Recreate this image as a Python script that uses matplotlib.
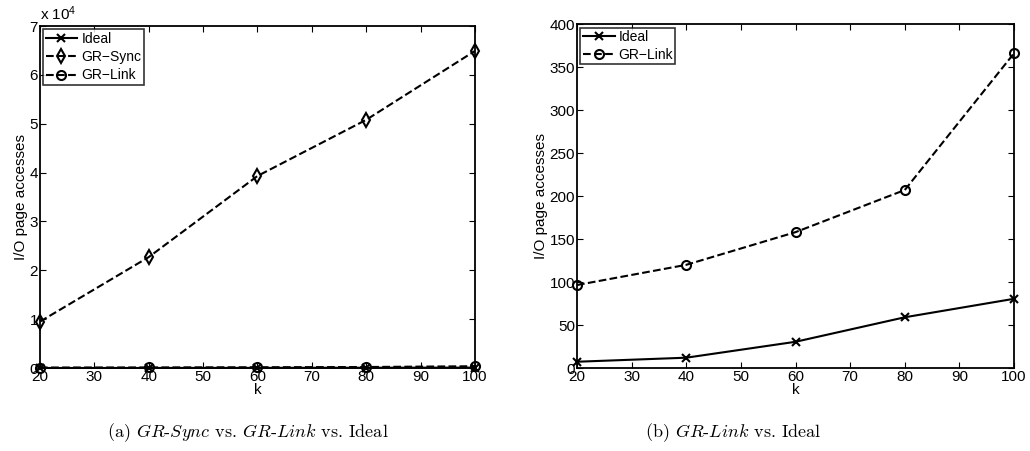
import numpy as np
import matplotlib
matplotlib.use("Agg")
import matplotlib.pyplot as plt
from matplotlib.ticker import FuncFormatter

plt.rcParams['font.family'] = ['Liberation Sans', 'DejaVu Sans']
plt.rcParams['mathtext.fontset'] = 'cm'

k = [20, 40, 60, 80, 100]
ideal = [7.3, 12, 30.5, 59, 80.5]
gr_sync = [9500, 22700, 39300, 50800, 64900]
gr_link = [96.5, 120, 158, 207, 366]

caption_a = r'(a) $\mathit{GR}$-$\mathit{Sync}$ vs. $\mathit{GR}$-$\mathit{Link}$ vs. Ideal'
caption_b = r'(b) $\mathit{GR}$-$\mathit{Link}$ vs. Ideal'

fig = plt.figure(figsize=(10.3, 4.51), dpi=100)
ax1 = fig.add_axes([0.0388, 0.184, 0.4223, 0.7583])
ax2 = fig.add_axes([0.5602, 0.184, 0.4243, 0.7627])


def style(ax):
    ax.tick_params(direction='in', top=True, right=True, labelsize=11,
                   length=4, width=0.8, pad=1.5)
    for s in ax.spines.values():
        s.set_linewidth(1.3)
    ax.set_xlim(20, 100)
    ax.set_xticks(np.arange(20, 101, 10))
    ax.set_xlabel('k', fontsize=11, labelpad=-0.5)
    ax.set_ylabel('I/O page accesses', fontsize=11, labelpad=1)


def add_legend(ax):
    leg = ax.legend(loc='upper left', fontsize=10, frameon=True, fancybox=False, edgecolor='k',
                    borderpad=0.15, handlelength=2.3, handletextpad=0.3, labelspacing=0.32,
                    borderaxespad=0.25)
    leg.get_frame().set_linewidth(1.2)


# (a)
ax1.plot(k, ideal, '-', color='k', lw=1.5, marker='x', ms=5.5, mew=1.5, label='Ideal', clip_on=False)
ax1.plot(k, gr_sync, '--', color='k', lw=1.5, marker='d', ms=7.5, mew=1.5, mfc='none', label='GR\u2212Sync', clip_on=False)
ax1.plot(k, gr_link, '--', color='k', lw=1.5, marker='o', ms=6.5, mew=1.5, mfc='none', label='GR\u2212Link', clip_on=False)
style(ax1)
ax1.set_ylim(0, 70000)
ax1.set_yticks(np.arange(0, 70001, 10000))
ax1.yaxis.set_major_formatter(FuncFormatter(lambda v, p: f'{v / 1e4:g}'))
ax1.text(0.0, 1.01, r'x $\mathregular{10^4}$', transform=ax1.transAxes, fontsize=11, va='bottom', ha='left')
add_legend(ax1)

# (b)
ax2.plot(k, ideal, '-', color='k', lw=1.5, marker='x', ms=5.5, mew=1.5, label='Ideal', clip_on=False)
ax2.plot(k, gr_link, '--', color='k', lw=1.5, marker='o', ms=6.5, mew=1.5, mfc='none', label='GR\u2212Link', clip_on=False)
style(ax2)
ax2.set_ylim(0, 400)
ax2.set_yticks(np.arange(0, 401, 50))
add_legend(ax2)

fig.text(0.241, 0.04, caption_a, fontsize=13, ha='center', va='center', family='cmr10')
fig.text(0.712, 0.04, caption_b, fontsize=13, ha='center', va='center', family='cmr10')

fig.savefig('out.png', dpi=100)
